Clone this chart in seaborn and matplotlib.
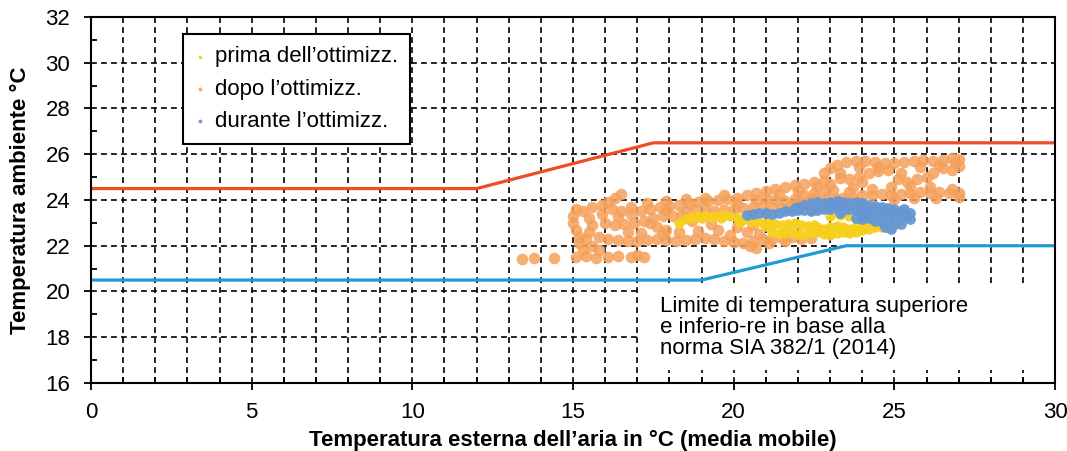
import numpy as np
import pandas as pd
import matplotlib.pyplot as plt
import matplotlib.patches as mpatches
from matplotlib.ticker import MultipleLocator
import seaborn as sns

# ---- limiti SIA 382/1 (2014) ----
lim_x_sup = [0, 12, 17.5, 30]
lim_y_sup = [24.5, 24.5, 26.5, 26.5]
lim_x_inf = [0, 19, 23.5, 30]
lim_y_inf = [20.5, 20.5, 22.0, 22.0]

prima_pts = [
    (18.3, 23.0), (18.5, 23.15), (18.7, 23.25), (18.9, 23.3), (19.1, 23.3), (19.3, 23.25),
    (19.5, 23.3), (19.7, 23.35), (19.9, 23.3), (20.1, 23.2), (20.3, 23.15), (20.5, 23.1),
    (20.7, 23.05), (20.9, 23.0), (21.1, 23.0), (21.3, 22.95), (21.5, 22.9), (21.7, 22.95),
    (21.9, 23.0), (22.1, 22.9), (22.3, 22.85), (22.5, 22.9),
    (21.2, 22.6), (21.4, 22.5), (21.6, 22.55), (21.8, 22.6), (22.0, 22.5), (22.2, 22.45),
    (22.4, 22.55), (22.6, 22.6), (22.8, 22.5), (23.0, 22.45), (23.2, 22.55), (23.4, 22.6),
    (23.6, 22.55), (23.8, 22.6), (24.0, 22.7), (24.2, 22.75), (24.4, 22.8), (24.6, 22.8),
    (24.8, 22.85), (25.0, 22.9),
    (22.6, 22.8), (22.8, 22.75), (23.0, 22.8), (23.2, 22.85), (23.4, 22.8), (23.6, 22.75),
    (23.8, 22.85), (24.0, 22.9), (24.2, 23.0), (24.4, 23.0), (24.6, 22.95),
    (23.0, 23.3), (23.3, 23.35), (23.6, 23.3), (24.5, 23.3), (25.2, 23.45),
    (19.0, 23.2), (19.6, 23.2), (20.2, 23.05), (21.0, 22.85), (22.9, 22.65), (23.5, 22.7),
]

durante_pts = [
    (20.4, 23.35), (20.6, 23.4), (20.8, 23.45), (21.0, 23.45), (21.2, 23.4), (21.4, 23.45),
    (21.6, 23.5), (21.8, 23.5), (22.0, 23.55), (22.2, 23.55), (21.9, 23.65), (22.0, 23.7),
    (22.2, 23.8), (22.4, 23.85), (22.6, 23.9), (22.8, 23.85), (23.0, 23.9), (23.2, 23.95),
    (23.4, 23.9), (23.6, 23.85), (23.8, 23.9), (24.0, 23.85), (24.2, 23.8), (24.4, 23.75),
    (24.6, 23.7), (24.8, 23.65), (25.0, 23.6), (25.2, 23.5),
    (22.4, 23.5), (22.6, 23.55), (22.8, 23.6), (23.0, 23.6), (23.2, 23.65), (23.4, 23.55),
    (23.6, 23.6), (23.8, 23.55), (24.0, 23.5), (24.2, 23.55), (24.4, 23.45), (24.6, 23.4),
    (24.8, 23.35), (25.0, 23.3), (25.2, 23.25), (25.4, 23.3), (25.5, 23.15),
    (23.8, 23.2), (24.0, 23.15), (24.2, 23.2), (24.4, 23.1), (24.6, 23.05), (24.8, 23.0),
    (25.0, 22.95), (25.2, 22.95), (24.7, 22.8), (24.9, 22.75),
    (23.1, 23.75), (23.5, 23.75), (23.9, 23.7), (24.3, 23.65), (24.7, 23.55), (25.3, 23.6),
    (22.7, 23.7), (23.3, 23.45), (24.1, 23.35), (25.5, 23.45),
]

dopo_pts = [
    (13.4, 21.4), (13.8, 21.45), (14.4, 21.45), (15.1, 21.5), (15.4, 21.55), (15.7, 21.45),
    (16.1, 21.5), (16.4, 21.55), (16.8, 21.5), (17.0, 21.6), (17.2, 21.5),
    (15.0, 23.3), (15.0, 23.0), (15.1, 22.7), (15.2, 22.4), (15.2, 22.1), (15.3, 21.8),
    (15.1, 23.6), (15.3, 23.5), (15.5, 23.2), (15.6, 22.9), (15.5, 22.6), (15.4, 22.3),
    (15.6, 22.0), (15.8, 21.8),
    (15.6, 23.7), (15.9, 23.8), (16.1, 23.9), (16.3, 24.1), (16.5, 24.25), (16.2, 23.6),
    (16.5, 23.5), (16.8, 23.4), (17.1, 23.5), (17.4, 23.6), (17.7, 23.7), (18.0, 23.75),
    (18.3, 23.8), (18.6, 23.85), (18.9, 23.9), (19.2, 23.95), (19.5, 24.0), (19.8, 24.05),
    (20.1, 24.1),
    (16.0, 23.0), (16.3, 22.9), (16.6, 22.95), (16.9, 23.0), (17.2, 23.1), (17.5, 23.2),
    (17.8, 23.3), (18.1, 23.3), (18.4, 23.35), (17.4, 23.0), (17.6, 22.8), (17.9, 22.7),
    (15.8, 22.4), (16.1, 22.3), (16.4, 22.25), (16.7, 22.2), (17.0, 22.2), (17.3, 22.25),
    (17.6, 22.3), (17.9, 22.25), (18.2, 22.2), (18.5, 22.25), (18.8, 22.3), (19.1, 22.35),
    (19.4, 22.3), (19.7, 22.2), (20.0, 22.15), (20.3, 22.1), (20.6, 22.2), (20.9, 22.3),
    (20.4, 22.6), (20.6, 22.9), (20.8, 22.5), (20.5, 22.0), (20.7, 21.9),
    (18.8, 23.6), (19.1, 23.55), (19.4, 23.5), (19.7, 23.55), (20.0, 23.6), (20.3, 23.65),
    (20.6, 23.7), (20.9, 23.75), (21.2, 23.7), (21.5, 23.65),
    (20.4, 24.2), (20.7, 24.3), (21.0, 24.4), (21.3, 24.5), (21.6, 24.55), (21.9, 24.65),
    (22.2, 24.7), (22.5, 24.8), (22.8, 24.85), (21.0, 24.1), (21.3, 24.0), (21.6, 23.95),
    (21.9, 24.05), (22.2, 24.2), (22.5, 24.3), (22.8, 24.4), (23.1, 24.45),
    (22.8, 25.2), (23.0, 25.4), (23.2, 25.55), (23.5, 25.65), (23.8, 25.7), (24.1, 25.7),
    (24.4, 25.65), (24.7, 25.6), (25.0, 25.6), (25.3, 25.65), (25.6, 25.7), (25.9, 25.75),
    (26.2, 25.7), (26.5, 25.75), (26.8, 25.85), (27.0, 25.8), (27.0, 25.5), (26.8, 25.3),
    (26.5, 25.4), (26.2, 25.2), (26.0, 25.0), (25.7, 24.9), (25.4, 24.8), (25.1, 24.9),
    (25.2, 25.2), (24.8, 25.3), (24.5, 25.25), (24.2, 25.2), (23.9, 25.0), (23.6, 24.9),
    (23.3, 24.95), (24.0, 24.8),
    (23.4, 24.1), (23.7, 24.15), (24.0, 24.2), (24.3, 24.2), (24.6, 24.25), (24.9, 24.2),
    (25.2, 24.25), (25.5, 24.3), (25.8, 24.35), (26.1, 24.3), (26.4, 24.35), (26.7, 24.3),
    (27.0, 24.3), (26.8, 24.5), (27.0, 24.15),
    (22.0, 23.9), (22.3, 24.0), (22.6, 24.05), (22.9, 24.1), (23.2, 24.05),
    (21.2, 22.3), (21.5, 22.35), (21.8, 22.4), (22.1, 22.3), (22.4, 22.35),
    # riempimento della nuvola
    (16.8, 23.7), (17.3, 23.85), (17.9, 23.95), (18.5, 24.05), (19.1, 24.1), (19.7, 24.2),
    (16.7, 22.6), (17.1, 22.55), (17.8, 22.5), (18.3, 22.6), (18.9, 22.65), (19.5, 22.7),
    (18.7, 23.1), (19.3, 22.95), (20.1, 22.8), (16.4, 23.3), (17.9, 23.55), (18.5, 23.5),
    (20.1, 23.85), (20.7, 24.0), (21.4, 24.25), (22.0, 24.4), (22.6, 24.6), (23.0, 24.7),
    (23.3, 25.2), (23.9, 25.45), (24.5, 25.45), (25.8, 25.45), (26.4, 25.55), (26.9, 25.6),
    (23.7, 24.55), (24.3, 24.5), (24.9, 24.55), (25.5, 24.6), (26.1, 24.55),
    (21.8, 23.75), (22.4, 23.6), (21.1, 22.1), (21.6, 22.2), (19.9, 22.45), (15.9, 23.4),
    (22.5, 24.1), (23.6, 24.35), (25.0, 24.05), (25.6, 24.1), (26.3, 24.1),
]

serie_labels = ["prima dell\u2019ottimizz.", "dopo l\u2019ottimizz.", "durante l\u2019ottimizz."]
serie_colors = ["#F6CF1C", "#F5A05A", "#6797D3"]

sns.set_theme(style="white")
plt.rcParams['font.family'] = ['Liberation Sans', 'DejaVu Sans']
plt.rcParams['text.color'] = 'black'
plt.rcParams['axes.labelcolor'] = 'black'

fig = plt.figure(figsize=(10.67, 4.51), dpi=100)
ax = fig.add_axes([0.0853, 0.1508, 0.9035, 0.8115])
ax.set_axisbelow(True)

# linee limite
sns.lineplot(x=lim_x_sup, y=lim_y_sup, color="#EE4B26", lw=2.3, ax=ax, zorder=2)
sns.lineplot(x=lim_x_inf, y=lim_y_inf, color="#1E9AD6", lw=2.3, ax=ax, zorder=2)

# nuvole di punti
df_dopo = pd.DataFrame(dopo_pts, columns=["x", "y"])
df_prima = pd.DataFrame(prima_pts, columns=["x", "y"])
df_dur = pd.DataFrame(durante_pts, columns=["x", "y"])
sns.scatterplot(data=df_dopo, x="x", y="y", color=serie_colors[1], s=70, alpha=0.85,
                linewidth=0, ax=ax, zorder=3, label=serie_labels[1])
sns.scatterplot(data=df_prima, x="x", y="y", color=serie_colors[0], s=55, alpha=0.95,
                linewidth=0, ax=ax, zorder=4, label=serie_labels[0])
sns.scatterplot(data=df_dur, x="x", y="y", color=serie_colors[2], s=60, alpha=0.95,
                linewidth=0, ax=ax, zorder=5, label=serie_labels[2])

ax.set_xlim(0, 30)
ax.set_ylim(16, 32)
ax.xaxis.set_major_locator(MultipleLocator(5))
ax.xaxis.set_minor_locator(MultipleLocator(1))
ax.yaxis.set_major_locator(MultipleLocator(2))
ax.yaxis.set_minor_locator(MultipleLocator(1))
ax.tick_params(which='major', direction='out', length=5, width=1.3, colors='black',
               labelsize=16, left=True, bottom=True)
ax.tick_params(axis='y', which='major', pad=10)
ax.tick_params(axis='x', which='major', pad=9)
ax.tick_params(which='minor', direction='in', length=4, width=1.3, colors='black',
               left=True, bottom=True)

ax.grid(which='both', axis='x', color='black', linestyle=(0, (3.5, 2.5)), lw=1.2)
ax.grid(which='major', axis='y', color='black', linestyle=(0, (3.5, 2.5)), lw=1.2)
for sp in ax.spines.values():
    sp.set_color('black')
    sp.set_linewidth(1.5)

# riquadro bianco con la nota
ax.add_patch(mpatches.Rectangle((17.05, 16.55), 12.95, 3.8, facecolor='white',
                                edgecolor='none', zorder=1))
ax.text(17.7, 19.8, "Limite di temperatura superiore\ne inferio-re in base alla\nnorma SIA 382/1 (2014)",
        fontsize=16, va='top', ha='left', linespacing=1.0, zorder=6, color='black')

ax.set_xlabel("Temperatura esterna dell\u2019aria in \u00b0C (media mobile)", fontsize=16,
              fontweight='bold', labelpad=5)
ax.set_ylabel("Temperatura ambiente \u00b0C", fontsize=16, fontweight='bold', labelpad=10)

# legenda nell'ordine originale
h, l = ax.get_legend_handles_labels()
order = [l.index(s) for s in serie_labels]
leg = ax.legend([h[i] for i in order], [l[i] for i in order], loc='upper left',
                bbox_to_anchor=(0.095, 0.953), fontsize=16, frameon=True, fancybox=False,
                framealpha=1, edgecolor='black', markerscale=0.35, handlelength=0.5,
                handletextpad=0.4, labelspacing=0.5, borderpad=0.55, borderaxespad=0)
leg.get_frame().set_linewidth(1.5)
leg.set_zorder(10)

fig.savefig("out.png", dpi=100)
